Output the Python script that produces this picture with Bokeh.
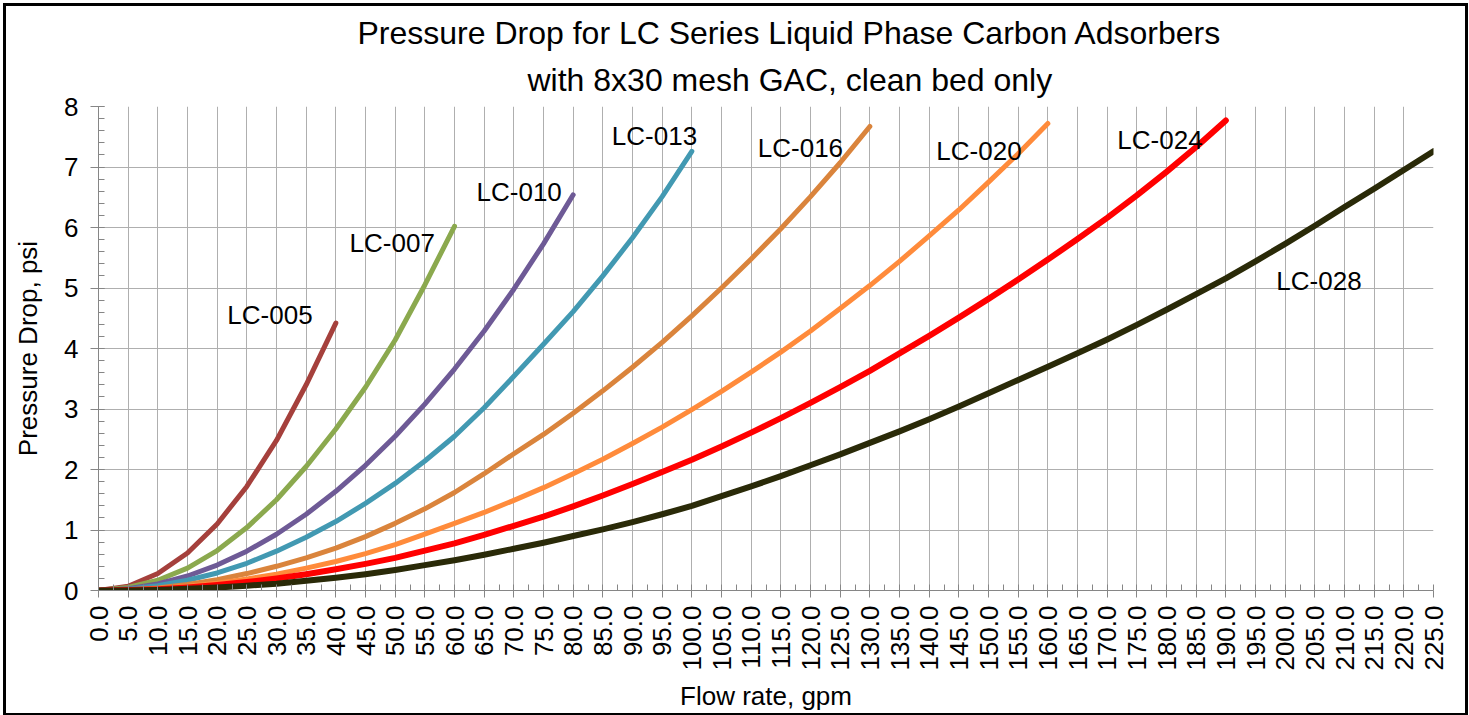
from bokeh.plotting import figure
from bokeh.models import Range1d, FixedTicker, PrintfTickFormatter, Title, ColumnDataSource
from bokeh.core.properties import value
from bokeh.embed import file_html
from bokeh.resources import INLINE

# ---------------- data ----------------
series_names = ["LC-005", "LC-007", "LC-010", "LC-013", "LC-016", "LC-020", "LC-024", "LC-028"]

flow_005 = list(range(0, 41, 5))
dp_005 = [0, 0.07, 0.28, 0.62, 1.10, 1.72, 2.48, 3.40, 4.42]

flow_007 = list(range(0, 61, 5))
dp_007 = [0, 0.05, 0.17, 0.37, 0.66, 1.04, 1.50, 2.05, 2.67, 3.36, 4.14, 5.05, 6.02]

flow_010 = list(range(0, 81, 5))
dp_010 = [0, 0.03, 0.11, 0.24, 0.42, 0.65, 0.93, 1.26, 1.64, 2.07, 2.55, 3.08, 3.66,
          4.29, 4.98, 5.73, 6.54]

flow_013 = list(range(0, 101, 5))
dp_013 = [0, 0.02, 0.08, 0.17, 0.29, 0.45, 0.65, 0.88, 1.14, 1.44, 1.77, 2.14, 2.55,
          3.02, 3.54, 4.07, 4.61, 5.20, 5.83, 6.51, 7.26]

flow_016 = list(range(0, 131, 5))
dp_016 = [0, 0.01, 0.04, 0.10, 0.18, 0.28, 0.40, 0.54, 0.70, 0.89, 1.11, 1.35, 1.62,
          1.93, 2.26, 2.58, 2.93, 3.30, 3.69, 4.10, 4.54, 5.00, 5.48, 5.98, 6.51, 7.07, 7.67]

flow_020 = list(range(0, 161, 5))
dp_020 = [0, 0.01, 0.03, 0.07, 0.12, 0.19, 0.27, 0.37, 0.48, 0.61, 0.76, 0.93, 1.11,
          1.29, 1.49, 1.70, 1.93, 2.17, 2.43, 2.70, 2.99, 3.29, 3.61, 3.94, 4.29, 4.66,
          5.04, 5.44, 5.86, 6.29, 6.75, 7.22, 7.72]

flow_024 = list(range(0, 191, 5))
dp_024 = [0, 0.01, 0.02, 0.05, 0.09, 0.14, 0.20, 0.27, 0.35, 0.44, 0.54, 0.66, 0.78,
          0.92, 1.07, 1.22, 1.39, 1.57, 1.76, 1.96, 2.16, 2.38, 2.61, 2.85, 3.10, 3.36,
          3.63, 3.92, 4.21, 4.51, 4.82, 5.14, 5.47, 5.81, 6.16, 6.53, 6.92, 7.33, 7.77]

flow_028 = list(range(0, 226, 5))
dp_028 = [0, 0.00, 0.01, 0.03, 0.05, 0.08, 0.11, 0.16, 0.21, 0.27, 0.34, 0.42, 0.50,
          0.59, 0.69, 0.79, 0.90, 1.01, 1.13, 1.26, 1.40, 1.56, 1.72, 1.89, 2.07, 2.25,
          2.44, 2.63, 2.83, 3.04, 3.26, 3.48, 3.70, 3.92, 4.15, 4.39, 4.64, 4.90, 5.16,
          5.44, 5.73, 6.03, 6.34, 6.64, 6.95, 7.26]

# label anchor positions (data units: gpm, psi)
label_x = [28.9, 49.5, 70.9, 93.7, 118.3, 148.4, 178.9, 205.7]
label_y = [4.55, 5.75, 6.58, 7.52, 7.31, 7.26, 7.44, 5.11]

x_major = list(range(0, 226, 5))
y_major = list(range(0, 9))

colors = ["#A5403C", "#8BA94E", "#6E5A96", "#4299B2", "#DA843C", "#FF8B3B", "#FF0000", "#2A2A08"]
widths = [5, 5, 5, 5, 5, 5, 6, 6]

FONT = "Liberation Sans"

p = figure(
    output_backend="svg", toolbar_location=None,
    frame_width=1335, frame_height=484,
    min_border_left=92, min_border_right=32, min_border_top=100, min_border_bottom=121,
    x_range=Range1d(0, 225), y_range=Range1d(0, 8),
    background_fill_color="white", border_fill_color="white",
)
p.styles = {"border": "3px solid black", "margin-left": "3px", "margin-top": "3px"}
p.outline_line_color = None

# titles (second line nearest to the plot)
t2 = Title(text="with 8x30 mesh GAC, clean bed only", align="left", offset=429,
           text_font=FONT, text_font_size="32px", text_font_style="normal",
           text_color="black", standoff=18)
t1 = Title(text="Pressure Drop for LC Series Liquid Phase Carbon Adsorbers", align="left", offset=259,
           text_font=FONT, text_font_size="32px", text_font_style="normal",
           text_color="black", standoff=0)
p.add_layout(t2, "above")
p.add_layout(t1, "above")

# grid
p.xgrid.ticker = FixedTicker(ticks=x_major)
p.ygrid.ticker = FixedTicker(ticks=y_major)
for g in (p.xgrid, p.ygrid):
    g.grid_line_color = "#AFAFAF"
    g.grid_line_width = 1

# x axis
xa = p.xaxis[0]
xa.ticker = FixedTicker(ticks=x_major, minor_ticks=[i * 2.5 for i in range(0, 91)])
xa.formatter = PrintfTickFormatter(format="%.1f")
xa.major_label_orientation = 1.5708
xa.axis_label = "Flow rate, gpm"
xa.major_tick_out = 7
xa.major_tick_in = 0
xa.minor_tick_in = 6
xa.minor_tick_out = 0
xa.major_label_standoff = 8
xa.axis_label_standoff = 7

# y axis
ya = p.yaxis[0]
ya.ticker = FixedTicker(ticks=y_major, minor_ticks=[i * 0.2 for i in range(0, 41)])
ya.axis_label = "Pressure Drop, psi"
ya.major_tick_out = 8
ya.major_tick_in = 6
ya.minor_tick_in = 6
ya.minor_tick_out = 0
ya.major_label_standoff = 12
ya.axis_label_standoff = 18

for ax in (xa, ya):
    ax.axis_line_color = "#868686"
    ax.major_tick_line_color = "#868686"
    ax.minor_tick_line_color = "#868686"
    ax.major_label_text_font = FONT
    ax.major_label_text_font_size = "26px"
    ax.major_label_text_color = "black"
    ax.axis_label_text_font = FONT
    ax.axis_label_text_font_size = "26px"
    ax.axis_label_text_font_style = "normal"
    ax.axis_label_text_color = "black"

flows = [flow_005, flow_007, flow_010, flow_013, flow_016, flow_020, flow_024, flow_028]
dps = [dp_005, dp_007, dp_010, dp_013, dp_016, dp_020, dp_024, dp_028]
for fl, dp, c, w in zip(flows, dps, colors, widths):
    p.line(fl, dp, line_color=c, line_width=w, line_join="round", line_cap="round")

lab_src = ColumnDataSource(dict(x=label_x, y=label_y, t=series_names))
p.text(x="x", y="y", text="t", source=lab_src, text_font=value(FONT), text_font_size="26px",
       text_align="center", text_baseline="middle", text_color="black")

open("out.html", "w").write(file_html(p, INLINE))
